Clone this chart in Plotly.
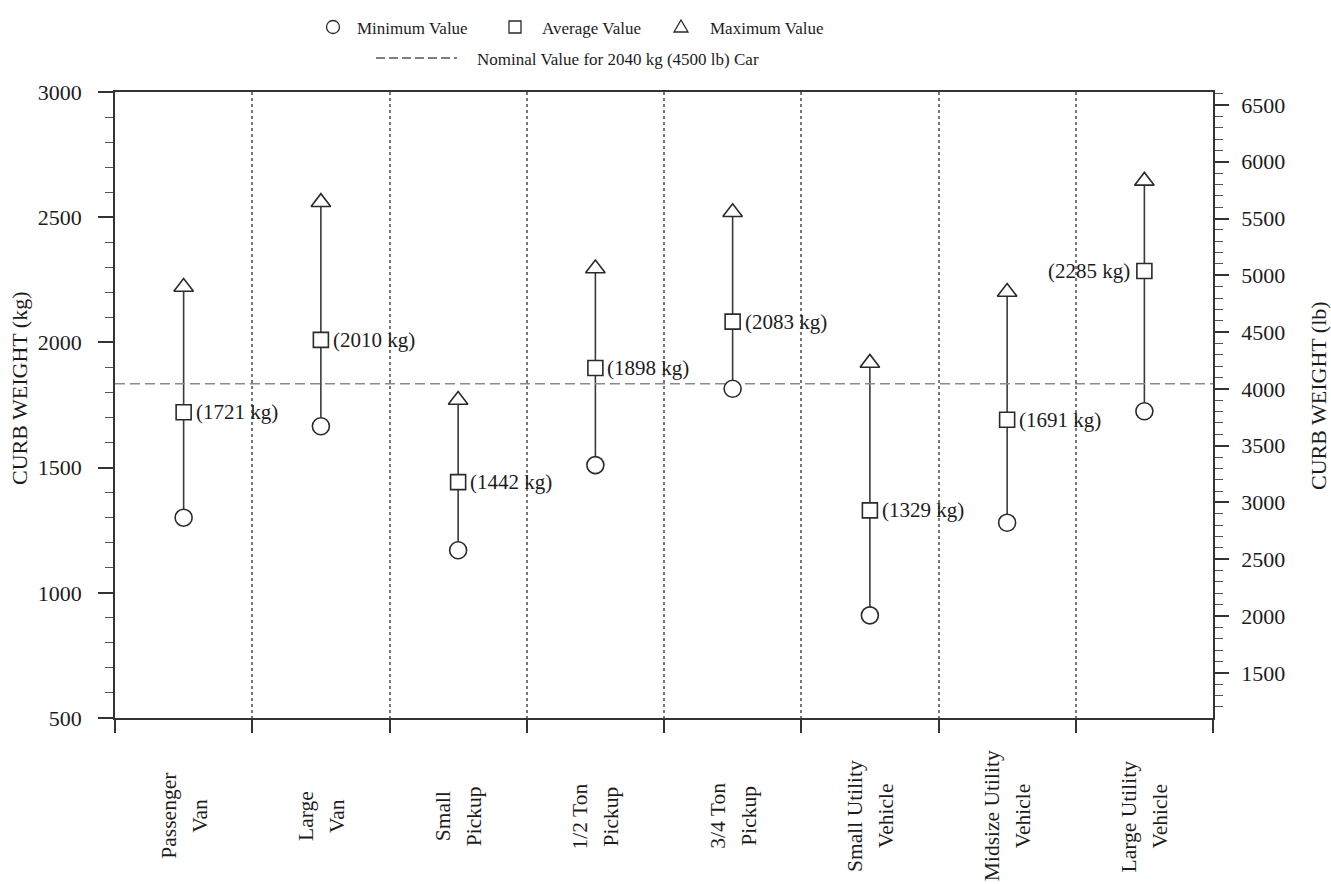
import plotly.graph_objects as go

# Vehicle classes (two-line labels) and their curb weights in kg
categories = [
    ("Passenger", "Van"),
    ("Large", "Van"),
    ("Small", "Pickup"),
    ("1/2 Ton", "Pickup"),
    ("3/4 Ton", "Pickup"),
    ("Small Utility", "Vehicle"),
    ("Midsize Utility", "Vehicle"),
    ("Large Utility", "Vehicle"),
]
min_kg = [1300, 1665, 1170, 1510, 1815, 910, 1280, 1725]
avg_kg = [1721, 2010, 1442, 1898, 2083, 1329, 1691, 2285]
max_kg = [2221, 2560, 1770, 2295, 2520, 1918, 2201, 2645]
nominal_kg = 1835

kg_ticks = [500, 1000, 1500, 2000, 2500, 3000]
lb_ticks = [1500, 2000, 2500, 3000, 3500, 4000, 4500, 5000, 5500, 6000, 6500]
KG_TO_LB = 2.20462

FONT = "Liberation Serif"
INK = "#1c1c1c"

# plot-area geometry in pixels (used to place legend keys and labels)
W, H = 1331, 884
L, R, T, B = 115, 118, 92, 166
PW, PH = W - L - R, H - T - B


def px_x(px):
    return (px - L) / PW


def px_y(py):
    return (H - B - py) / PH


xs = list(range(len(categories)))

fig = go.Figure()

# min-to-max range bars
seg_x, seg_y = [], []
for i in xs:
    seg_x += [i, i, None]
    seg_y += [min_kg[i], max_kg[i], None]
fig.add_trace(go.Scatter(x=seg_x, y=seg_y, mode="lines",
                         line=dict(color="#3a3a3a", width=1.6),
                         hoverinfo="skip", showlegend=False))

# nominal reference line
fig.add_trace(go.Scatter(x=[-0.5, len(categories) - 0.5], y=[nominal_kg, nominal_kg],
                         mode="lines", line=dict(color="#8a8a8a", width=1.6, dash="10px,5px"),
                         hoverinfo="skip", showlegend=False))

marker_line = dict(color="#2a2a2a", width=1.6)
fig.add_trace(go.Scatter(x=xs, y=min_kg, mode="markers", name="Minimum Value",
                         marker=dict(symbol="circle", size=17, color="white", line=marker_line),
                         showlegend=False))
fig.add_trace(go.Scatter(x=xs, y=avg_kg, mode="markers", name="Average Value",
                         marker=dict(symbol="square", size=15, color="white", line=marker_line),
                         showlegend=False))
fig.add_trace(go.Scatter(x=xs, y=max_kg, mode="markers", name="Maximum Value",
                         marker=dict(symbol="triangle-up", size=17, color="white", line=marker_line),
                         showlegend=False))

# invisible trace tying the pound axis to the same data
fig.add_trace(go.Scatter(x=xs, y=[v * KG_TO_LB for v in avg_kg], yaxis="y2",
                         mode="markers", marker=dict(opacity=0), hoverinfo="skip",
                         showlegend=False))

annotations = []
# value labels next to the average markers
for i, v in enumerate(avg_kg):
    left = i == len(avg_kg) - 1
    annotations.append(dict(x=i, y=v, xref="x", yref="y", text=f"({v} kg)",
                            showarrow=False, xanchor="right" if left else "left",
                            yanchor="middle",
                            xshift=-12 if left else 10,
                            font=dict(family=FONT, size=21, color=INK)))

# rotated two-line category labels
for i, (l1, l2) in enumerate(categories):
    for line, shift in ((l1, -15), (l2, 16)):
        annotations.append(dict(x=i, y=px_y(816), xref="x", yref="paper", text=line,
                                textangle=-90, showarrow=False, xshift=shift,
                                xanchor="center", yanchor="middle",
                                font=dict(family=FONT, size=21.5, color=INK)))

# axis titles
annotations.append(dict(x=0, y=px_y(388), xref="paper", yref="paper", xshift=-96,
                        xanchor="center", yanchor="middle",
                        text="CURB WEIGHT (kg)", textangle=-90, showarrow=False,
                        font=dict(family=FONT, size=22, color=INK)))
annotations.append(dict(x=1, y=px_y(396), xref="paper", yref="paper", xshift=105,
                        xanchor="center", yanchor="middle",
                        text="CURB WEIGHT (lb)", textangle=-90, showarrow=False,
                        font=dict(family=FONT, size=22, color=INK)))

# legend texts
legend_font = dict(family=FONT, size=17, color=INK)
for txt, px in (("Minimum Value", 355), ("Average Value", 540), ("Maximum Value", 708)):
    annotations.append(dict(x=px_x(px), y=px_y(28), xref="paper", yref="paper", text=txt,
                            showarrow=False, xanchor="left", yanchor="middle", font=legend_font))
annotations.append(dict(x=px_x(475), y=px_y(59), xref="paper", yref="paper",
                        text="Nominal Value for 2040 kg (4500 lb) Car",
                        showarrow=False, xanchor="left", yanchor="middle", font=legend_font))

# legend keys
key_line = dict(color="#2a2a2a", width=1.3)
shapes = [
    dict(type="circle", xref="paper", yref="paper", xsizemode="pixel", ysizemode="pixel",
         xanchor=px_x(333), yanchor=px_y(27), x0=-6.5, x1=6.5, y0=-6.5, y1=6.5,
         line=key_line, fillcolor="white"),
    dict(type="rect", xref="paper", yref="paper", xsizemode="pixel", ysizemode="pixel",
         xanchor=px_x(515), yanchor=px_y(27), x0=-6, x1=6, y0=-6, y1=6,
         line=key_line, fillcolor="white"),
    dict(type="path", xref="paper", yref="paper", xsizemode="pixel", ysizemode="pixel",
         xanchor=px_x(681), yanchor=px_y(27),
         path="M -7,-5 L 7,-5 L 0,7 Z", line=key_line, fillcolor="white"),
    dict(type="line", xref="paper", yref="paper", x0=px_x(376), x1=px_x(457),
         y0=px_y(58), y1=px_y(58), line=dict(color="#555", width=1.3, dash="9px,4px")),
]

fig.update_layout(
    width=W, height=H,
    margin=dict(l=L, r=R, t=T, b=B, pad=0),
    paper_bgcolor="white", plot_bgcolor="white",
    font=dict(family=FONT, size=20, color=INK),
    showlegend=False,
    annotations=annotations,
    shapes=shapes,
    xaxis=dict(range=[-0.5, len(categories) - 0.5],
               tickmode="array",
               tickvals=[i - 0.5 for i in range(len(categories) + 1)],
               ticktext=[""] * (len(categories) + 1),
               ticks="outside", ticklen=13, tickwidth=1.5, tickcolor="#333",
               showline=True, linecolor="#333", linewidth=1.5, mirror=True,
               showgrid=True, gridcolor="#777", gridwidth=1.5, griddash="dot",
               zeroline=False, fixedrange=True),
    yaxis=dict(range=[500, 3000], tickmode="array", tickvals=kg_ticks,
               ticks="outside", ticklen=15, tickwidth=1.5, tickcolor="#333",
               minor=dict(dtick=100, tick0=0, ticks="outside", ticklen=8,
                          tickwidth=1.3, tickcolor="#555", showgrid=False),
               ticklabelstandoff=12,
               tickfont=dict(family=FONT, size=22, color=INK),
               showline=True, linecolor="#333", linewidth=1.5,
               showgrid=False, zeroline=False, fixedrange=True),
    yaxis2=dict(range=[500 * KG_TO_LB, 3000 * KG_TO_LB], overlaying="y", side="right",
                tickmode="array", tickvals=lb_ticks,
                ticks="outside", ticklen=14, tickwidth=1.5, tickcolor="#333",
                minor=dict(dtick=100, tick0=0, ticks="outside", ticklen=8,
                           tickwidth=1.3, tickcolor="#555", showgrid=False),
                ticklabelstandoff=8,
                tickfont=dict(family=FONT, size=22, color=INK),
                showline=True, linecolor="#333", linewidth=1.5,
                showgrid=False, zeroline=False, fixedrange=True),
)

fig.write_html("out.html")
